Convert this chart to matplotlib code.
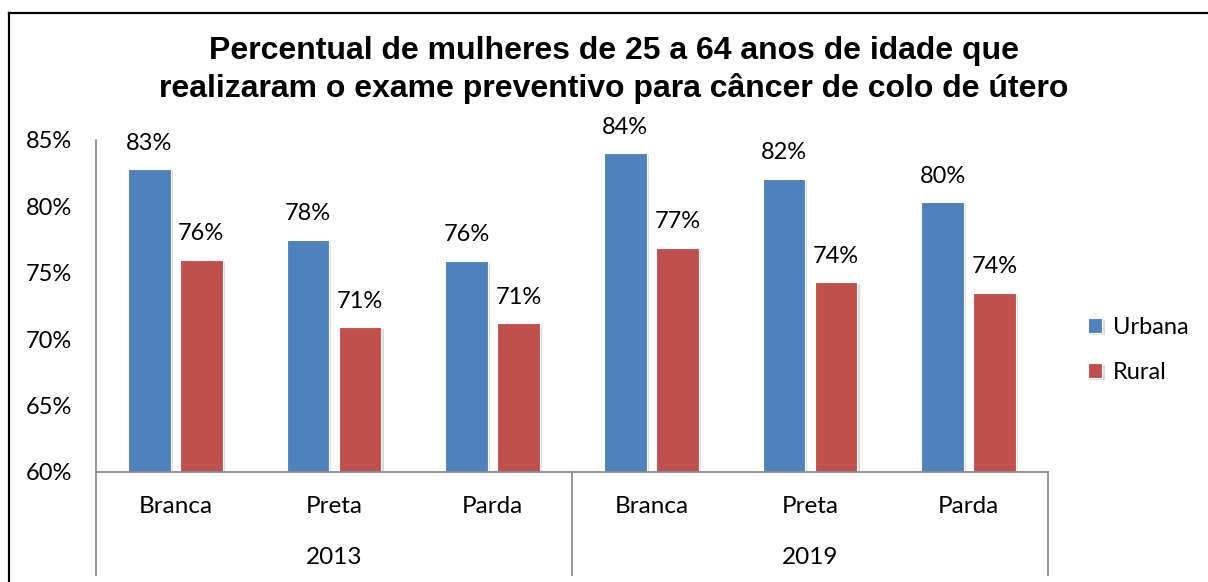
import numpy as np
import matplotlib
matplotlib.use("Agg")
import matplotlib.pyplot as plt
import matplotlib.patheffects as pe
from matplotlib.lines import Line2D
from matplotlib.transforms import blended_transform_factory

# data
years = ["2013", "2019"]
groups = ["Branca", "Preta", "Parda", "Branca", "Preta", "Parda"]
urbana = [82.8, 77.5, 75.9, 84.0, 82.1, 80.3]
rural = [76.0, 70.9, 71.2, 76.9, 74.3, 73.5]
urbana_lbl = ["83%", "78%", "76%", "84%", "82%", "80%"]
rural_lbl = ["76%", "71%", "71%", "77%", "74%", "74%"]
yticks = [60, 65, 70, 75, 80, 85]

blue = "#4F81BD"
red = "#C0504D"
axis_gray = "#8C8C8C"
body_font = "Lato"
fs = 17

W, H = 1208, 582
fig = plt.figure(figsize=(W / 100, H / 100), dpi=100)
ax = fig.add_axes([96 / W, 1 - 472 / H, (1048 - 96) / W, (472 - 140) / H])

x = np.arange(len(groups))
bw = 0.27
off = 0.164
shadow = [pe.SimplePatchShadow(offset=(1.5, -1.5), shadow_rgbFace="#999999", alpha=0.35), pe.Normal()]
b1 = ax.bar(x - off, [u - 60 for u in urbana], bottom=60, width=bw, color=blue,
            edgecolor="white", linewidth=0.8, label="Urbana", path_effects=shadow)
b2 = ax.bar(x + off, [r - 60 for r in rural], bottom=60, width=bw, color=red,
            edgecolor="white", linewidth=0.8, label="Rural", path_effects=shadow)

for xi, v, t in zip(x - off, urbana, urbana_lbl):
    ax.annotate(t, (xi, v), xytext=(0, 14), textcoords="offset points",
                ha="center", va="baseline", fontsize=fs, family=body_font)
for xi, v, t in zip(x + off, rural, rural_lbl):
    ax.annotate(t, (xi, v), xytext=(0, 14), textcoords="offset points",
                ha="center", va="baseline", fontsize=fs, family=body_font)

ax.set_xlim(-0.5, 5.5)
ax.set_ylim(60, 85)
ax.set_yticks(yticks)
ax.set_yticklabels([f"{t}%" for t in yticks], fontsize=fs, family=body_font)
ax.tick_params(axis="y", length=0, pad=17)
ax.set_xticks([])
for s in ["top", "right"]:
    ax.spines[s].set_visible(False)
for s in ["left", "bottom"]:
    ax.spines[s].set_color(axis_gray)
    ax.spines[s].set_linewidth(1.3)

# multi-level category axis
tr = blended_transform_factory(ax.transData, ax.transAxes)
for xv in [-0.5, 2.5, 5.5]:
    ax.add_line(Line2D([xv, xv], [0, -0.31], transform=tr, color=axis_gray,
                       lw=1.3, clip_on=False))
for xi, g in zip(x, groups):
    ax.text(xi, -0.105, g, transform=tr, ha="center", va="center",
            fontsize=fs + 0.5, family=body_font)
for i, yr in enumerate(years):
    ax.text(1 + 3 * i, -0.259, yr, transform=tr, ha="center", va="center",
            fontsize=fs + 0.5, family=body_font)

fig.suptitle("Percentual de mulheres de 25 a 64 anos de idade que\n"
             "realizaram o exame preventivo para câncer de colo de útero",
             x=0.508, y=1 - 36 / H, va="top", fontsize=23, fontweight="bold",
             family="Liberation Sans", linespacing=1.3)

fig.legend(handles=[b1, b2], labels=["Urbana", "Rural"], loc="center left",
           bbox_to_anchor=(1067 / W, 1 - 350 / H), frameon=False,
           prop={"family": body_font, "size": fs}, handlelength=0.6,
           handleheight=0.6, handletextpad=0.45, labelspacing=1.0)

# chart border
fig.add_artist(Line2D([8.5 / W, 8.5 / W], [0, 1 - 12.5 / H], transform=fig.transFigure,
                      color="black", lw=1.6))
fig.add_artist(Line2D([8.5 / W, 1], [1 - 12.5 / H, 1 - 12.5 / H], transform=fig.transFigure,
                      color="black", lw=1.6))

fig.savefig("out.png", dpi=100)
